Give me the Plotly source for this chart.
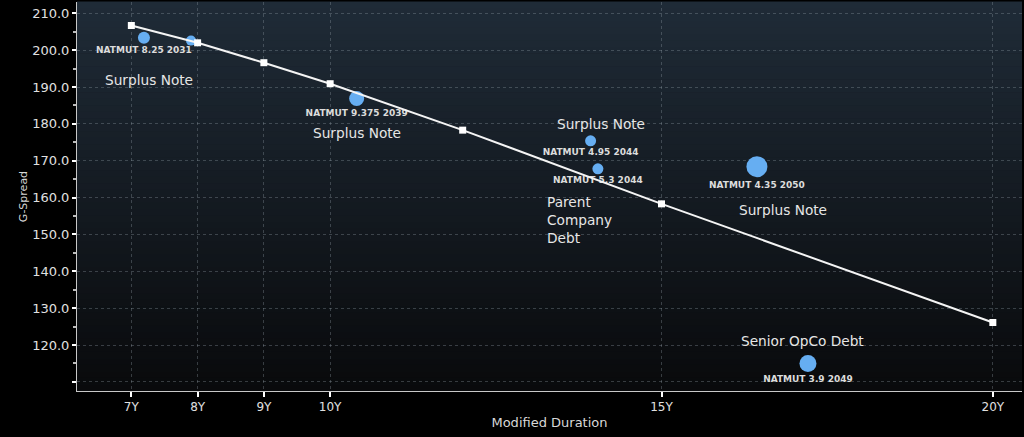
import plotly.graph_objects as go

# ---- data ----
bond_names = ["NATMUT 8.25 2031", "", "NATMUT 9.375 2039", "NATMUT 4.95 2044",
              "NATMUT 5.3 2044", "NATMUT 4.35 2050", "NATMUT 3.9 2049"]
bond_duration = [7.19, 7.90, 10.40, 13.93, 14.04, 16.44, 17.21]
bond_spread = [203.4, 202.6, 186.9, 175.4, 167.8, 168.4, 115.0]
bond_size = [12, 10, 15, 11, 11, 21, 17]

curve_tenor = [7, 8, 9, 10, 12, 15, 20]
curve_spread = [206.7, 202.0, 196.6, 190.9, 178.3, 158.3, 126.1]

x_tickvals = [7, 8, 9, 10, 15, 20]
x_ticktext = ["7Y", "8Y", "9Y", "10Y", "15Y", "20Y"]
y_tickvals = [110, 120, 130, 140, 150, 160, 170, 180, 190, 200, 210]
y_ticktext = ["", "120.0", "130.0", "140.0", "150.0", "160.0", "170.0",
              "180.0", "190.0", "200.0", "210.0"]

# category labels: (text, bond index, xshift, yshift, align)
category_labels = [
    ("Surplus Note", 0, 5, -42, "center"),
    ("Surplus Note", 2, 0, -35, "center"),
    ("Surplus Note", 3, 10, 17, "center"),
    ("Parent<br>Company<br>Debt", 4, -18, -51, "left"),
    ("Surplus Note", 5, 26, -43, "center"),
    ("Senior OpCo Debt", 6, -5, 22, "center"),
]

FONT = "DejaVu Sans"

fig = go.Figure()

fig.add_trace(go.Scatter(
    x=bond_duration, y=bond_spread, mode="markers+text",
    text=bond_names, textposition="bottom center",
    textfont=dict(family=FONT, size=9, color="#dcdcdc", weight="bold"),
    marker=dict(size=bond_size, sizemode="diameter", color="#66aef2",
                opacity=1, line=dict(width=0)),
    hoverinfo="skip", showlegend=False,
))

fig.add_trace(go.Scatter(
    x=curve_tenor, y=curve_spread, mode="lines+markers",
    line=dict(color="#f4f4f4", width=2),
    marker=dict(symbol="square", size=7, color="#ffffff"),
    hoverinfo="skip", showlegend=False,
))

# gradient background bands
shapes = []
n = 60
top = (31, 43, 55)
bot = (9, 10, 12)
for i in range(n):
    t = i / (n - 1)
    c = tuple(int(round(top[k] * (1 - t) + bot[k] * t)) for k in range(3))
    shapes.append(dict(type="rect", xref="x domain", yref="y domain",
                       x0=0, x1=1, y0=1 - (i + 1) / n, y1=1 - i / n + 0.001,
                       fillcolor="rgb(%d,%d,%d)" % c, line=dict(width=0),
                       layer="below"))

annotations = []
for text, idx, xs, ys, al in category_labels:
    annotations.append(dict(
        x=bond_duration[idx], y=bond_spread[idx], xref="x", yref="y",
        text=text, showarrow=False, xshift=xs, yshift=ys, align=al,
        font=dict(family=FONT, size=13.7, color="#e6e6e6"),
    ))

GRID = "rgba(150,160,170,0.33)"
fig.update_layout(
    width=1024, height=437,
    margin=dict(l=77, r=2, t=2, b=46),
    paper_bgcolor="#000000", plot_bgcolor="#141a21",
    shapes=shapes, annotations=annotations,
    font=dict(family=FONT, color="#d8d8d8"),
    xaxis=dict(
        range=[6.18, 20.44], tickvals=x_tickvals, ticktext=x_ticktext,
        automargin=False,
        showgrid=True, gridcolor=GRID, griddash="dot", gridwidth=1,
        zeroline=False, showline=True, linecolor="#c8c8c8", linewidth=1,
        ticks="outside", ticklen=5, tickwidth=2, tickcolor="#ffffff",
        tickfont=dict(family=FONT, size=12, color="#e0e0e0"),
        title=dict(text="Modified Duration", font=dict(family=FONT, size=13, color="#d8d8d8"),
                   standoff=4),
    ),
    yaxis=dict(
        range=[107.52, 213.07], tickvals=y_tickvals, ticktext=y_ticktext,
        automargin=False,
        showgrid=True, gridcolor=GRID, griddash="dot", gridwidth=1,
        zeroline=False, showline=True, linecolor="#c8c8c8", linewidth=1,
        ticks="outside", ticklen=4, tickwidth=2, tickcolor="#ffffff",
        minor=dict(dtick=5, tick0=0, ticks="outside", ticklen=3, tickcolor="#bbbbbb", showgrid=False),
        tickfont=dict(family=FONT, size=13, color="#e0e0e0"),
        title=dict(text="G-Spread", font=dict(family=FONT, size=11, color="#d8d8d8"),
                   standoff=2),
    ),
)

fig.write_html("out.html", config={"displayModeBar": False},
               post_script="document.body.style.margin='0px';document.body.style.background='#000';")
